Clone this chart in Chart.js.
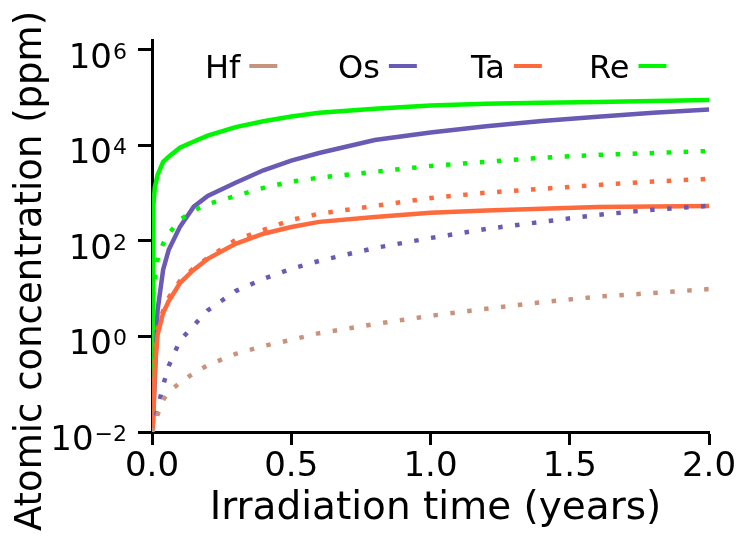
<!DOCTYPE html>
<html>
<head>
<meta charset="utf-8">
<script src="https://cdn.jsdelivr.net/npm/chart.js@4.4.1/dist/chart.umd.min.js"></script>
<style>
  html, body { margin: 0; padding: 0; background: #fff; }
  #wrap { width: 746px; height: 538px; }
</style>
</head>
<body>
<div id="wrap"><canvas id="concChart"></canvas></div>
<script>
// irradiation time (years)
const times = [0, 0.005, 0.01, 0.02, 0.04, 0.06, 0.1, 0.15, 0.2, 0.3, 0.4, 0.5, 0.6, 0.8, 1.0, 1.2, 1.4, 1.6, 1.8, 2.0];

// atomic concentration (ppm), solid = one curve, dotted = the other
const reSolid  = [0.01, 560, 1300, 2400, 4500, 5800, 8900, 12000, 16000, 24000, 32000, 40000, 48000, 58000, 68000, 74000, 78000, 81000, 85000, 89000];
const reDotted = [0.01, 7.4, 15, 40, 87, 140, 275, 430, 590, 870, 1290, 1740, 2100, 2800, 3700, 4500, 5500, 6300, 6900, 7600];
const osSolid  = [0.01, 0.029, 0.12, 3.5, 25, 65, 195, 520, 870, 1650, 3000, 4800, 6900, 12900, 18600, 25100, 32400, 39800, 47900, 56200];
const osDotted = [0.01, 0.014, 0.018, 0.03, 0.095, 0.24, 0.81, 1.7, 3.5, 8.9, 16, 26, 38, 71, 115, 178, 250, 350, 450, 540];
const taSolid  = [0.01, 0.018, 0.2, 1.07, 3.1, 5.5, 13, 25, 42, 87, 141, 195, 250, 316, 390, 430, 470, 510, 525, 540];
const taDotted = [0.01, 0.047, 0.32, 1.4, 3.5, 6.5, 14.5, 27, 44, 105, 170, 275, 370, 540, 790, 1020, 1230, 1480, 1740, 2000];
const hfDotted = [0.01, 0.012, 0.015, 0.023, 0.047, 0.069, 0.107, 0.17, 0.25, 0.43, 0.63, 0.85, 1.17, 1.82, 2.7, 3.8, 5.2, 6.8, 8.1, 9.8];

const legendLabels = ['Hf', 'Os', 'Ta', 'Re'];
const yTickValues = [1e-2, 1e0, 1e2, 1e4, 1e6];
const xTickValues = [0, 0.5, 1.0, 1.5, 2.0];

const colors = {
  Hf: '#c8937c',
  Os: '#6a5ab4',
  Ta: '#ff6a3d',
  Re: '#00f500'
};

const FONT = '"DejaVu Sans", Verdana, sans-serif';

const toPoints = (vals) => vals.map((v, i) => ({ x: times[i], y: v }));

const solid = (label, data, color) => ({
  label, data: toPoints(data),
  borderColor: color, backgroundColor: color,
  borderWidth: 4.5, pointRadius: 0, tension: 0, fill: false
});
const dotted = (label, data, color) => ({
  label, data: toPoints(data),
  borderColor: color, backgroundColor: color,
  borderWidth: 4.5, borderDash: [4.5, 12.5], borderCapStyle: 'butt',
  pointRadius: 0, tension: 0, fill: false
});

// legend: label text first, short line after it
const legendPlugin = {
  id: 'elementLegend',
  afterDraw(chart) {
    const ctx = chart.ctx;
    const xs = [205, 338, 471, 589];
    ctx.save();
    ctx.font = '32px ' + FONT;
    ctx.textBaseline = 'alphabetic';
    ctx.textAlign = 'left';
    legendLabels.forEach((label, i) => {
      const x = xs[i];
      ctx.fillStyle = '#000';
      ctx.fillText(label, x, 78);
      const w = ctx.measureText(label).width;
      ctx.strokeStyle = colors[label];
      ctx.lineWidth = 4;
      ctx.beginPath();
      ctx.moveTo(x + w + 9, 66);
      ctx.lineTo(x + w + 37, 66);
      ctx.stroke();
    });
    ctx.restore();
  }
};

// axis titles and power-of-ten tick labels (base + raised exponent)
const textPlugin = {
  id: 'axisText',
  afterDraw(chart) {
    const ctx = chart.ctx;
    const y = chart.scales.y;
    const x = chart.scales.x;
    ctx.save();
    ctx.fillStyle = '#000';
    ctx.textBaseline = 'alphabetic';

    yTickValues.forEach(v => {
      const py = y.getPixelForValue(v);
      const exp = String(Math.round(Math.log10(v))).replace('-', '\u2212');
      ctx.textAlign = 'right';
      ctx.font = '22px ' + FONT;
      const right = y.right - 25;
      ctx.fillText(exp, right, py + 9);
      const ew = ctx.measureText(exp).width;
      ctx.font = '34px ' + FONT;
      ctx.fillText('10', right - ew - 1, py + 18);
    });

    ctx.textAlign = 'center';
    ctx.font = '39px ' + FONT;
    ctx.fillText('Irradiation time (years)', (x.left + x.right) / 2 + 5, 519);

    ctx.translate(31, 271);
    ctx.rotate(-Math.PI / 2);
    ctx.font = '37px ' + FONT;
    ctx.textBaseline = 'middle';
    ctx.fillText('Atomic concentration (ppm)', 0, 0);
    ctx.restore();
  }
};

Chart.defaults.font.family = FONT;
Chart.defaults.color = '#000';

new Chart(document.getElementById('concChart'), {
  type: 'line',
  data: {
    datasets: [
      dotted('Hf dotted', hfDotted, colors.Hf),
      dotted('Os dotted', osDotted, colors.Os),
      dotted('Ta dotted', taDotted, colors.Ta),
      dotted('Re dotted', reDotted, colors.Re),
      solid('Ta', taSolid, colors.Ta),
      solid('Os', osSolid, colors.Os),
      solid('Re', reSolid, colors.Re)
    ]
  },
  options: {
    responsive: true,
    maintainAspectRatio: false,
    animation: false,
    layout: {
      autoPadding: false,
      padding: { top: 40, right: 37, left: 0, bottom: 0 }
    },
    plugins: {
      legend: { display: false },
      tooltip: { enabled: false }
    },
    scales: {
      x: {
        type: 'linear',
        min: 0,
        max: 2.0,
        afterFit(scale) { scale.height = 106; },
        afterBuildTicks(scale) { scale.ticks = xTickValues.map(v => ({ value: v })); },
        border: { display: true, color: '#000', width: 3 },
        grid: { display: true, drawOnChartArea: false, drawTicks: true, tickLength: 13, tickWidth: 3, tickColor: '#000' },
        ticks: {
          font: { size: 34 },
          color: '#000',
          padding: 2,
          maxRotation: 0,
          callback: (v) => Number(v).toFixed(1)
        }
      },
      y: {
        type: 'logarithmic',
        min: 0.01,
        max: 1.6e6,
        afterFit(scale) { scale.width = 152; },
        afterBuildTicks(scale) { scale.ticks = yTickValues.map(v => ({ value: v })); },
        border: { display: true, color: '#000', width: 3 },
        grid: { display: true, drawOnChartArea: false, drawTicks: true, tickLength: 14, tickWidth: 3, tickColor: '#000' },
        ticks: {
          display: false
        }
      }
    }
  },
  plugins: [legendPlugin, textPlugin]
});
</script>
</body>
</html>
